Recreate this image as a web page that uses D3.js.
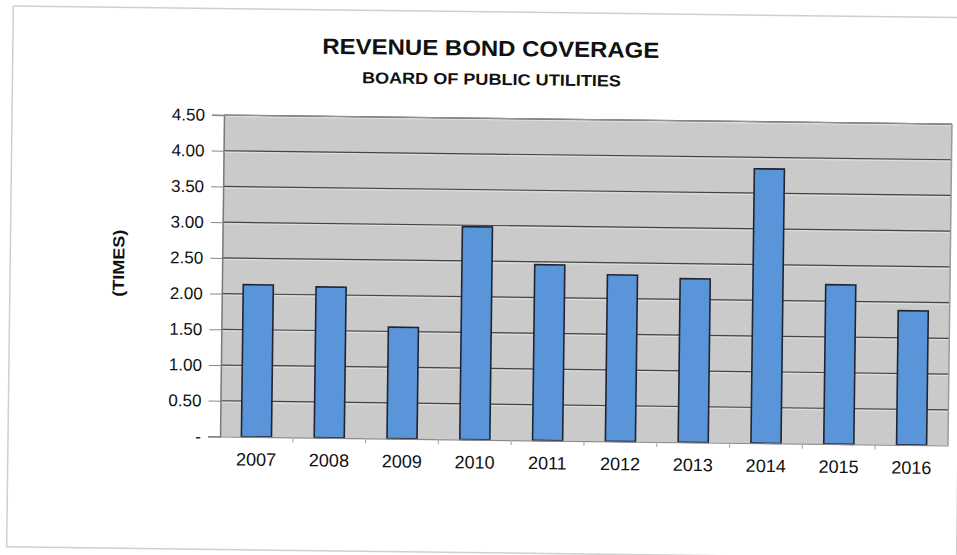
<!DOCTYPE html>
<html>
<head>
<meta charset="utf-8">
<script src="https://cdn.jsdelivr.net/npm/d3@7"></script>
<style>
  html, body { margin: 0; padding: 0; background: #ffffff; }
  svg { display: block; }
  text { font-family: "Liberation Sans", Arial, sans-serif; fill: #111111; }
</style>
</head>
<body>
<svg id="chart" width="957" height="555"></svg>
<script>
// ---- data ----
const years = ["2007", "2008", "2009", "2010", "2011", "2012", "2013", "2014", "2015", "2016"];
const coverage = [2.13, 2.11, 1.56, 2.98, 2.46, 2.33, 2.29, 3.84, 2.23, 1.88];
const yTicks = [0, 0.5, 1.0, 1.5, 2.0, 2.5, 3.0, 3.5, 4.0, 4.5];
const titleText = "REVENUE BOND COVERAGE";
const subtitleText = "BOARD OF PUBLIC UTILITIES";
const yAxisTitle = "(TIMES)";

// ---- layout ----
const svg = d3.select("#chart");
const plot = { left: 222, right: 950, top: 119.5, bottom: 441 };

const root = svg.append("g").attr("transform", "rotate(0.71, 585, 280)");

// outer frame
root.append("rect")
  .attr("x", 10).attr("y", 13).attr("width", 950).attr("height", 541)
  .attr("fill", "none").attr("stroke", "#cfcfcf").attr("stroke-width", 1.5);

const x = d3.scaleBand()
  .domain(years)
  .range([plot.left, plot.right])
  .paddingInner(0.587)
  .paddingOuter(0.2935);

const y = d3.scaleLinear()
  .domain([0, 4.5])
  .range([plot.bottom, plot.top]);

// plot background
root.append("rect")
  .attr("x", plot.left).attr("y", plot.top)
  .attr("width", plot.right - plot.left).attr("height", plot.bottom - plot.top)
  .attr("fill", "#cacaca");

// gridlines (light shadow + dark line)
const gridVals = yTicks.filter(v => v > 0);
root.append("g").selectAll("line.shadow").data(gridVals).join("line")
  .attr("x1", plot.left).attr("x2", plot.right)
  .attr("y1", d => y(d) + 1.5).attr("y2", d => y(d) + 1.5)
  .attr("stroke", "#e0e0e0").attr("stroke-width", 1);
root.append("g").selectAll("line.grid").data(gridVals).join("line")
  .attr("x1", plot.left).attr("x2", plot.right)
  .attr("y1", d => y(d)).attr("y2", d => y(d))
  .attr("stroke", "#444444").attr("stroke-width", 1.2);

// y axis
const yAxis = d3.axisLeft(y)
  .tickValues(yTicks)
  .tickSize(12)
  .tickPadding(7)
  .tickFormat(d => d === 0 ? "-" : d.toFixed(2));
const yg = root.append("g")
  .attr("transform", `translate(${plot.left},0)`)
  .call(yAxis);
yg.select(".domain").attr("stroke", "#7a7a7a").attr("stroke-width", 1.5);
yg.selectAll(".tick line").attr("stroke", "#8a8a8a");
yg.selectAll(".tick text")
  .style("font-size", "17px")
  .attr("fill", "#111111");

// right and top border
root.append("line")
  .attr("x1", plot.right).attr("x2", plot.right)
  .attr("y1", plot.top).attr("y2", plot.bottom)
  .attr("stroke", "#9a9a9a").attr("stroke-width", 1.5);
root.append("line")
  .attr("x1", plot.left).attr("x2", plot.right)
  .attr("y1", plot.top).attr("y2", plot.top)
  .attr("stroke", "#9a9a9a").attr("stroke-width", 1);

// bars
root.append("g").selectAll("rect.bar").data(years).join("rect")
  .attr("class", "bar")
  .attr("x", d => x(d))
  .attr("width", x.bandwidth())
  .attr("y", (d, i) => y(coverage[i]))
  .attr("height", (d, i) => y(0) - y(coverage[i]))
  .attr("fill", "#5b95d9")
  .attr("stroke", "#1d2533")
  .attr("stroke-width", 1.6);

// x axis
const xAxis = d3.axisBottom(x).tickSize(0).tickPadding(16);
const xg = root.append("g")
  .attr("transform", `translate(0,${plot.bottom})`)
  .call(xAxis);
xg.select(".domain").attr("stroke", "#8a8a8a").attr("stroke-width", 1.2);
xg.selectAll(".tick text").style("font-size", "18px").attr("fill", "#111111");

// category separator ticks below axis
const seps = years.slice(1);
root.append("g").selectAll("line.sep").data(seps).join("line")
  .attr("x1", d => x(d) - x.step() * x.paddingInner() / 2)
  .attr("x2", d => x(d) - x.step() * x.paddingInner() / 2)
  .attr("y1", plot.bottom).attr("y2", plot.bottom + 5)
  .attr("stroke", "#b0b0b0").attr("stroke-width", 1.2);

// titles
root.append("text")
  .attr("x", 488).attr("y", 57)
  .attr("text-anchor", "middle")
  .attr("textLength", 337).attr("lengthAdjust", "spacingAndGlyphs")
  .style("font-size", "22px").style("font-weight", "bold")
  .text(titleText);
root.append("text")
  .attr("x", 489).attr("y", 86)
  .attr("text-anchor", "middle")
  .attr("textLength", 259).attr("lengthAdjust", "spacingAndGlyphs")
  .style("font-size", "16px").style("font-weight", "bold")
  .text(subtitleText);

// y axis title
root.append("text")
  .attr("transform", "translate(124,269) rotate(-90)")
  .attr("text-anchor", "middle")
  .attr("textLength", 67).attr("lengthAdjust", "spacingAndGlyphs")
  .style("font-size", "16px").style("font-weight", "bold")
  .text(yAxisTitle);
</script>
</body>
</html>
